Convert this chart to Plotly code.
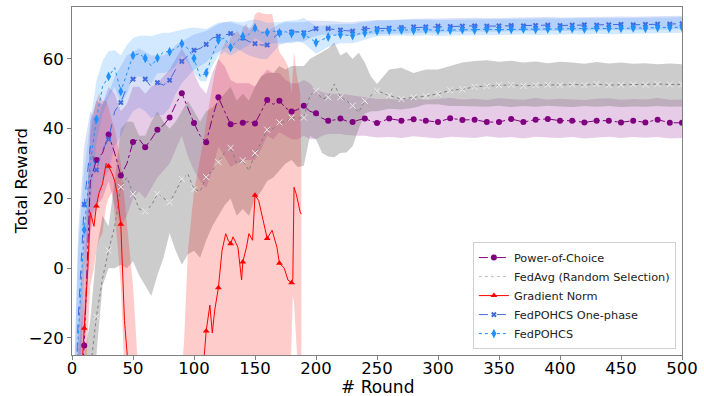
import plotly.graph_objects as go

# ---------------- data ----------------
ROUNDS = [1] + list(range(5, 251, 5)) + list(range(260, 501, 10))

# Power-of-Choice
poc_mean = [-70, -45, -22.2, 25, 31, 33, 38.3, 33, 26.6, 30, 36.2, 37, 34.7, 37, 39.7, 41, 43.2, 47, 50.2, 46,
            41.6, 38, 36.1, 43, 49, 45, 41.3, 41.5, 41.7, 42, 41.5, 45, 48.2, 47, 48, 46, 44.9, 45.5, 46.6, 45,
            44.4, 43, 42.3, 42.5, 42.9, 42.2, 41.9, 42.5, 42.9, 42.2, 41.6,
            42.9, 42.3, 42.7, 42.3, 41.9, 43.0, 42.5, 42.6, 41.9, 41.9, 42.8, 41.9, 42.6, 42.8, 42.3, 42.3, 41.8,
            42.3, 42.3, 41.8, 42.3, 41.8, 42.6, 41.7, 41.7]
poc_lo = [-90, -65, -35, 10, 18, 20, 25, 18, 12, 15, 20, 22, 20, 23, 26, 28, 30, 34, 38, 32,
          28, 25, 23, 28, 35, 32, 29, 30, 31, 31, 31, 34, 38, 37, 39, 38, 37, 37, 38, 37,
          37, 38, 38.5, 38.5, 38.5, 38.2, 38, 38, 38, 37.8, 37.5,
          37.6, 37.3, 37.8, 37.4, 37.2, 37.7, 37.5, 37.3, 37.8, 37.4, 37.6, 37.2, 37.7, 37.5, 37.3, 37.6, 37.2,
          37.5, 37.7, 37.3, 37.6, 37.4, 37.6, 37.2, 37.3]
poc_hi = [-50, -25, -8, 42, 48, 47, 52, 50, 45, 47, 52, 52, 50, 52, 53, 55, 57, 60, 63, 60,
          56, 52, 50, 56, 60, 58, 54, 53, 53, 53, 52, 55, 57, 56, 56, 54, 53, 53, 54, 53,
          51, 50.5, 50, 50, 50, 49.8, 49.5, 49.3, 49, 48.8, 48.5,
          48.6, 48.2, 48.7, 48.3, 48.5, 48.8, 48.4, 48.6, 48.2, 48.7, 48.5, 48.3, 48.8, 48.4, 48.6, 48.5, 48.2,
          48.6, 48.7, 48.3, 48.5, 48.4, 48.8, 48.3, 48.4]

# FedAvg (Random Selection)
avg_mean = [-80, -60, -45, -30, -13.9, -3, 5.1, 12, 23.3, 26, 21.3, 17, 16.3, 18, 21.3, 20, 18.9, 22, 25.6, 27,
            22.6, 22, 26.1, 28, 30.4, 33, 34.5, 30, 30.9, 28, 33, 36, 39.7, 40, 41.8, 42, 43.2, 43, 43.2, 49.5,
            50.9, 48.5, 49, 52.8, 49, 48, 46.6, 44.7, 48, 49.5, 50.9,
            49.5, 48.5, 49, 49.3, 50, 51, 51.3, 52, 52.2, 52.5, 52.6, 52.3, 52.5, 52.6, 52.5, 52.7, 52.5,
            52.8, 52.5, 52.6, 52.7, 52.6, 52.8, 52.7, 52.7]
avg_lo = [-100, -90, -70, -40, -25, -5, 0, 0, 1, 0, 2, -2, -5, -8, -2, 3, 10, 5, 1, 4,
          5, 3, 8, 12, 15, 18, 20, 15, 17, 15, 20, 22, 25, 26, 28, 30, 31, 29, 29.4, 37.9,
          37, 33, 32, 31.8, 33, 33.2, 35, 40, 44.3, 45, 45,
          45.7, 45.5, 46, 47, 47, 46.5, 46.5, 46.5, 46.3, 46.6, 46.2, 46.5, 46.3, 46.6, 46.4, 46.2, 46.5,
          46.3, 46.5, 46.2, 46.4, 46.3, 46.5, 46.3, 46.4]
avg_hi = [-60, -40, -25, -15, 5, 15, 12, 25, 40, 42, 42, 38, 38, 42, 45, 42, 40, 42, 45, 48,
          45, 42, 45, 46, 48, 50, 52, 48, 50, 48, 52, 55, 56, 56, 58, 57, 58, 58, 58, 60,
          61, 62, 63, 64.7, 61, 62, 60, 61.8, 59, 55, 52.8,
          57, 57.5, 56, 57, 57, 58, 59, 59.4, 59.6, 59.2, 59.5, 59.0, 59.3, 58.8, 59.2, 59.0, 58.6,
          59.1, 58.7, 59.0, 58.6, 58.8, 58.5, 58.7, 58.5]

# Gradient Norm
GN_ROUNDS = [1, 5, 8, 10, 13, 15, 18, 20, 22, 25, 28, 30, 33, 35, 37, 40, 43, 46, 50, 53, 55, 60, 70, 80, 90, 92,
             95, 100, 105, 108, 110, 113, 115, 117, 120, 123, 126, 128, 130, 132, 136, 139, 140, 143, 145, 148,
             150, 153, 157, 160, 164, 168, 170, 174, 177, 180, 181, 182, 184, 187, 188]
gn_mean = [-80, -50, -30, -17.2, 0, 16, 12, 17.8, 21.4, 24.2, 30, 29.2, 27, 25, 21.4, 12.6, -15, -28, -45, -52,
           -55, -60, -65, -62, -60, -58, -55, -50, -40, -25, -18, -10.6, -18.6, -12, -5.6, 5.1, 9.9, 8, 7, 9, 6,
           -3.4, 1.8, 6, 9.9, 8, 20.9, 19.4, 12.8, 8.5, 10.9, 6, 1.4, 0, -3.4, -4.2, -3, 23.2, 21, 16.1, 15.5]
gn_lo = [-100, -80, -55, -40, -20, -5, 0, 5, 8, 10, 18, 20, 22, 15, 8, -5, -30, -45, -60, -70,
         -80, -90, -100, -100, -100, -90, -80, -75, -70, -65, -60, -60, -60, -60, -60, -55, -50, -50, -50, -50, -50,
         -55, -52, -48, -45, -45, -40, -40, -45, -45, -45, -50, -50, -55, -55, -30, -8, -10, -22, -40, -45]
gn_hi = [-60, -20, 0, 8, 25, 38, 45, 48, 50, 48, 48, 46, 42, 40, 36, 30, 20, 10, -5, -22,
         -35, -50, -60, -55, -30, -20, 5, 22, 31, 37, 42, 48, 52, 56, 60, 63, 65, 64, 66, 67, 68,
         66, 69, 70, 68, 70, 72.8, 73.5, 73, 72.8, 73, 66, 62, 60, 58, 50, 58, 62, 56, 50, 30]

# FedPOHCS One-phase
one_mean = [-60, -15, 18.3, 35, 28.2, 34, 37, 45, 47.5, 52, 54.2, 55, 54.2, 52, 53.2, 52.5, 53.9, 57, 59.3, 61,
            62.5, 63, 64.2, 66, 66.5, 67, 67.3, 67, 66, 65, 64.4, 64, 64, 66, 67.5, 67.5, 67.7, 67.8, 67.5, 68,
            68.7, 68.8, 68.7, 68.5, 68.3, 68.1, 68, 68.4, 68.7, 68.8, 68.7,
            68.8, 69.0, 69.2, 69.2, 69.4, 69.3, 69.4, 69.5, 69.4, 69.5, 69.6, 69.5, 69.6, 69.7, 69.6, 69.7,
            69.8, 69.7, 69.8, 69.9, 69.8, 69.9, 70.0, 70.0, 70.1]
one_lo = [-80, -45, 0, 15, 18, 25, 28, 35, 38, 42, 45, 46, 45, 43, 44, 44, 46, 50, 53, 55,
          57, 58, 59, 61, 62, 63, 63.5, 63, 62, 61, 60.5, 60, 60, 62, 64, 64.5, 65, 65, 65, 66,
          66.5, 67, 67, 67, 66.8, 66.7, 66.6, 66.8, 67, 67.2, 67.2,
          67.3, 67.4, 67.6, 67.6, 67.8, 67.7, 67.8, 67.9, 67.8, 67.9, 68.0, 67.9, 68.0, 68.1, 68.0, 68.1,
          68.2, 68.1, 68.2, 68.3, 68.2, 68.3, 68.4, 68.4, 68.5]
one_hi = [-40, 10, 35, 45, 42, 47, 50, 55, 58, 61, 62, 63, 62, 61, 61, 61, 62, 64, 65, 66,
          67, 67.5, 68, 69, 70, 70.5, 70.5, 70, 69.5, 69, 68.5, 68, 68, 69, 70, 70.5, 70.5, 70.5, 70.5, 71,
          71, 71, 71, 70.8, 70.6, 70.5, 70.5, 70.8, 71, 71.2, 71.2,
          71.2, 71.4, 71.5, 71.5, 71.6, 71.6, 71.7, 71.8, 71.7, 71.8, 71.9, 71.8, 71.9, 72.0, 71.9, 72.0,
          72.1, 72.0, 72.1, 72.2, 72.1, 72.2, 72.3, 72.3, 72.4]

# FedPOHCS
poh_mean = [-60, -20, 11, 30, 42.7, 52, 55, 57.5, 50.7, 56, 61, 61.5, 60.2, 58, 60.3, 62, 62.1, 63, 64.4, 63,
            60.2, 55, 56, 61, 65.4, 66, 63.3, 65, 66.5, 67, 68.9, 67.5, 67.6, 68, 67.5, 67.8, 67.3, 67.8, 67, 66,
            64.7, 65.5, 66.3, 66.8, 67, 66.8, 66.7, 67.2, 67.5, 67.8, 68,
            68.2, 68.3, 68.2, 68.4, 68.2, 68.3, 68.4, 68.3, 68.5, 68.4, 68.5, 68.6, 68.5, 68.6, 68.6, 68.7,
            68.6, 68.8, 68.7, 68.8, 68.9, 68.8, 69.0, 69.0, 69.1]
poh_lo = [-80, -50, -5, 18, 36, 44, 49, 52, 47, 50, 55, 55, 54.5, 53, 56, 56, 56.5, 58, 61, 59,
          56, 53.7, 53.5, 58, 61, 62, 61, 62, 63, 64, 66, 65, 64, 64.5, 64.5, 64.7, 64.5, 65, 64.5, 63,
          61.5, 62.5, 63.5, 64, 64.5, 64.5, 64.5, 65, 65.5, 66, 66.5,
          66.6, 66.7, 66.6, 66.8, 66.6, 66.7, 66.8, 66.7, 66.9, 66.8, 66.9, 67.0, 66.9, 67.0, 67.0, 67.1,
          67.0, 67.2, 67.1, 67.2, 67.3, 67.2, 67.4, 67.4, 67.5]
poh_hi = [-40, 5, 28, 42, 53.7, 59.4, 62.3, 62.5, 61, 64, 66, 66.6, 66.7, 66.5, 67.1, 67.5, 67.5, 68, 68.5, 68.8,
          69, 68.8, 68.6, 69.5, 70.4, 70.6, 70.9, 70.6, 70.5, 71, 71.3, 71, 70.3, 70.5, 70.5, 70.9, 71, 71.2, 71.8, 70.5,
          69.5, 69.5, 69.8, 70, 70, 70, 70, 70.3, 70.5, 70.8, 71,
          71.1, 71.2, 71.1, 71.3, 71.2, 71.3, 71.4, 71.3, 71.4, 71.4, 71.5, 71.5, 71.5, 71.6, 71.6, 71.7,
          71.6, 71.7, 71.7, 71.8, 71.8, 71.8, 71.9, 71.9, 72.0]

X_TICKS = [0, 50, 100, 150, 200, 250, 300, 350, 400, 450, 500]
Y_TICKS = [-20, 0, 20, 40, 60]
Y_TICKTEXT = ["\u221220", "0", "20", "40", "60"]

# ---------------- styles ----------------
FONT = "DejaVu Sans, Arial, sans-serif"
series = [
    dict(name="Power-of-Choice", x=ROUNDS, m=poc_mean, lo=poc_lo, hi=poc_hi,
         color="#800080", fill="rgba(128,0,128,0.2)", dash="dashdot",
         symbol="circle", msize=6, mcolor="#800080", mline=None),
    dict(name="FedAvg (Random Selection)", x=ROUNDS, m=avg_mean, lo=avg_lo, hi=avg_hi,
         color="#808080", fill="rgba(128,128,128,0.4)", dash="dot",
         symbol="x-thin", msize=6, mcolor="#eeeeee", mline="#eeeeee"),
    dict(name="Gradient Norm", x=GN_ROUNDS, m=gn_mean, lo=gn_lo, hi=gn_hi,
         color="#ff0000", fill="rgba(255,0,0,0.2)", dash="solid",
         symbol="triangle-up", msize=6, mcolor="#ff0000", mline=None),
    dict(name="FedPOHCS One-phase", x=ROUNDS, m=one_mean, lo=one_lo, hi=one_hi,
         color="#4169e1", fill="rgba(65,105,225,0.2)", dash="dash",
         symbol="x", msize=5, mcolor="#4169e1", mline=None),
    dict(name="FedPOHCS", x=ROUNDS, m=poh_mean, lo=poh_lo, hi=poh_hi,
         color="#1e90ff", fill="rgba(30,144,255,0.2)", dash="dot",
         symbol="diamond-tall", msize=7, mcolor="#1e90ff", mline=None),
]

fig = go.Figure()

# bands first (as in matplotlib: fills below lines)
for s in series:
    fig.add_trace(go.Scatter(
        x=list(s["x"]) + list(s["x"])[::-1],
        y=list(s["hi"]) + list(s["lo"])[::-1],
        fill="toself", fillcolor=s["fill"], line=dict(width=0),
        mode="lines", hoverinfo="skip", showlegend=False))

# lines + markers every 10 rounds
for s in series:
    fig.add_trace(go.Scatter(x=s["x"], y=s["m"], mode="lines",
                             line=dict(color=s["color"], width=1, dash=s["dash"]),
                             showlegend=False))
    mx = [r for r in s["x"] if r % 10 == 0]
    my = [v for r, v in zip(s["x"], s["m"]) if r % 10 == 0]
    mk = dict(symbol=s["symbol"], size=s["msize"], color=s["mcolor"])
    if s["mline"]:
        mk["line"] = dict(color=s["mline"], width=1)
    else:
        mk["line"] = dict(width=0)
    fig.add_trace(go.Scatter(x=mx, y=my, mode="markers", marker=mk, showlegend=False))

# legend entries
for s in series:
    mk = dict(symbol=s["symbol"], size=s["msize"], color=s["mcolor"])
    if s["mline"]:
        mk["line"] = dict(color=s["mline"], width=1)
    else:
        mk["line"] = dict(width=0)
    lc = "#bbbbbb" if s["name"].startswith("FedAvg") else s["color"]
    fig.add_trace(go.Scatter(x=[None], y=[None], mode="lines+markers", name=s["name"],
                             line=dict(color=lc, width=1, dash=s["dash"]), marker=mk))

fig.update_layout(
    width=704, height=396,
    margin=dict(l=72, r=17, t=6, b=41),
    paper_bgcolor="white", plot_bgcolor="white",
    font=dict(family=FONT, size=16, color="black"),
    showlegend=True,
    legend=dict(x=0.99, y=0.017, xanchor="right", yanchor="bottom",
                bgcolor="rgba(255,255,255,0.85)", bordercolor="#d0d0d0", borderwidth=1,
                font=dict(family=FONT, size=11.3, color="#222222"), itemwidth=30,
                tracegroupgap=0),
    xaxis=dict(range=[0, 500], tickvals=X_TICKS, showgrid=False, zeroline=False,
               showline=True, linecolor="#808080", linewidth=1, mirror=True,
               ticks="outside", ticklen=4, tickcolor="#808080",
               ticklabelstandoff=-6,
               tickfont=dict(size=16.5)),
    yaxis=dict(range=[-24.9, 74.9], tickvals=Y_TICKS, ticktext=Y_TICKTEXT, showgrid=False, zeroline=False,
               showline=True, linecolor="#808080", linewidth=1, mirror=True,
               ticks="outside", ticklen=4, tickcolor="#808080",
               tickfont=dict(size=16.5)),
    annotations=[
        dict(text="Total Reward", xref="paper", yref="paper", x=-0.083, y=0.5,
             xanchor="center", yanchor="middle", textangle=-90, showarrow=False,
             font=dict(size=16.5)),
        dict(text="# Round", xref="paper", yref="paper", x=0.5, y=-0.0917,
             xanchor="center", yanchor="middle", showarrow=False, font=dict(size=17)),
    ],
)

fig.write_html("out.html")
